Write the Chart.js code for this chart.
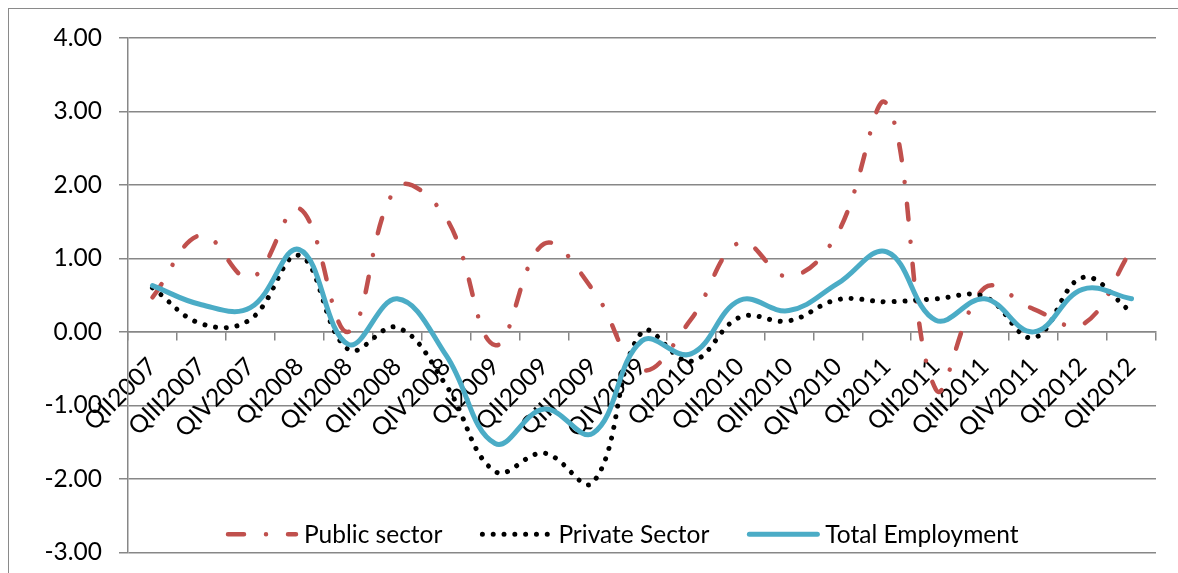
<!DOCTYPE html>
<html lang="en">
<head>
<meta charset="UTF-8">
<title>Employment growth by sector</title>
<script src="https://cdn.jsdelivr.net/npm/chart.js"></script>
<style>
    body {
        margin: 0;
        background: #fff;
        overflow: hidden;
    }
    .frame {
        position: absolute;
        left: 8px;
        top: 8px;
        width: 1300px;
        height: 700px;
        border: 1.5px solid #8a8a8a;
    }
    .wrap {
        position: absolute;
        left: 0;
        top: 0;
        width: 1178px;
        height: 584px;
    }
</style>
</head>
<body>

<div class="frame"></div>
<div class="wrap"><canvas id="chart"></canvas></div>

<script>
    const quarters = [
        'QII2007', 'QIII2007', 'QIV2007', 'QI2008', 'QII2008', 'QIII2008', 'QIV2008',
        'QI2009', 'QII2009', 'QIII2009', 'QIV2009', 'QI2010', 'QII2010', 'QIII2010',
        'QIV2010', 'QI2011', 'QII2011', 'QIII2011', 'QIV2011', 'QI2012', 'QII2012'
    ];
    const publicSector = [
        0.47, 1.32, 0.73, 1.68, 0.00, 1.97, 1.55,
        -0.18, 1.20, 0.57, -0.52, 0.17, 1.22, 0.75,
        1.35, 3.10, -0.78, 0.60, 0.31, 0.10, 1.12
    ];
    const privateSector = [
        0.60, 0.11, 0.17, 1.04, -0.24, 0.06, -0.73,
        -1.90, -1.65, -2.05, 0.00, -0.40, 0.20, 0.15,
        0.44, 0.41, 0.45, 0.48, -0.08, 0.74, 0.27
    ];
    const totalEmployment = [
        0.63, 0.37, 0.33, 1.12, -0.17, 0.45, -0.32,
        -1.52, -1.05, -1.38, -0.12, -0.30, 0.43, 0.29,
        0.66, 1.09, 0.16, 0.45, 0.00, 0.58, 0.45
    ];
    const yMin = -3;
    const yMax = 4;

    const gridColor = '#878787';
    const textFont = { family: 'Lato', size: 24.5 };

    // legend sits inside the plot, above the -3.00 line
    const insideLegend = {
        id: 'insideLegend',
        afterDatasetsDraw(chart) {
            const { ctx, chartArea } = chart;
            ctx.save();
            ctx.font = '24.5px Lato';
            ctx.textBaseline = 'middle';
            ctx.fillStyle = '#000';
            let x = chartArea.left + 100;
            const y = chartArea.bottom - 18;
            chart.data.datasets.forEach(ds => {
                ctx.save();
                ctx.strokeStyle = ds.borderColor;
                ctx.lineWidth = ds.borderWidth;
                ctx.lineCap = 'round';
                ctx.setLineDash(ds.borderDash || []);
                ctx.beginPath();
                ctx.moveTo(x, y);
                ctx.lineTo(x + 68, y);
                ctx.stroke();
                ctx.restore();
                x += 76;
                ctx.fillText(ds.label, x, y + 1);
                x += ctx.measureText(ds.label).width + 40;
            });
            ctx.restore();
        }
    };

    new Chart(document.getElementById('chart'), {
        type: 'line',
        data: {
            labels: quarters,
            datasets: [
                {
                    label: 'Public sector',
                    data: publicSector,
                    borderColor: '#C0504D',
                    borderWidth: 4.5,
                    borderDash: [16, 22, 0.01, 22],
                    borderCapStyle: 'round',
                    tension: 0.4,
                    pointRadius: 0,
                    order: 2
                },
                {
                    label: 'Private Sector',
                    data: privateSector,
                    borderColor: '#000000',
                    borderWidth: 5,
                    borderDash: [0.01, 10.8],
                    borderCapStyle: 'round',
                    tension: 0.4,
                    pointRadius: 0,
                    order: 1
                },
                {
                    label: 'Total Employment',
                    data: totalEmployment,
                    borderColor: '#4BACC6',
                    borderWidth: 5,
                    borderCapStyle: 'round',
                    tension: 0.4,
                    pointRadius: 0,
                    order: 0
                }
            ]
        },
        options: {
            responsive: true,
            maintainAspectRatio: false,
            animation: false,
            layout: {
                padding: { left: 0, top: 38, right: 22, bottom: 10 }
            },
            plugins: {
                legend: { display: false },
                tooltip: { enabled: false }
            },
            scales: {
                x: {
                    type: 'category',
                    position: { y: 0 },
                    offset: true,
                    grid: {
                        offset: true,
                        drawOnChartArea: false,
                        drawTicks: true,
                        tickLength: 8,
                        color: gridColor,
                        lineWidth: 1.5
                    },
                    border: { color: gridColor, width: 1.5 },
                    ticks: {
                        autoSkip: false,
                        minRotation: 45,
                        maxRotation: 45,
                        padding: 12,
                        color: '#000',
                        font: textFont
                    }
                },
                y: {
                    min: yMin,
                    max: yMax,
                    afterFit: scale => { scale.width = 128; },
                    grid: {
                        color: gridColor,
                        lineWidth: 1.5,
                        tickLength: 9
                    },
                    border: { color: gridColor, width: 1.5 },
                    ticks: {
                        stepSize: 1,
                        padding: 17,
                        color: '#000',
                        font: textFont,
                        callback: v => Number(v).toFixed(2)
                    }
                }
            }
        },
        plugins: [insideLegend]
    });
</script>

</body>
</html>
